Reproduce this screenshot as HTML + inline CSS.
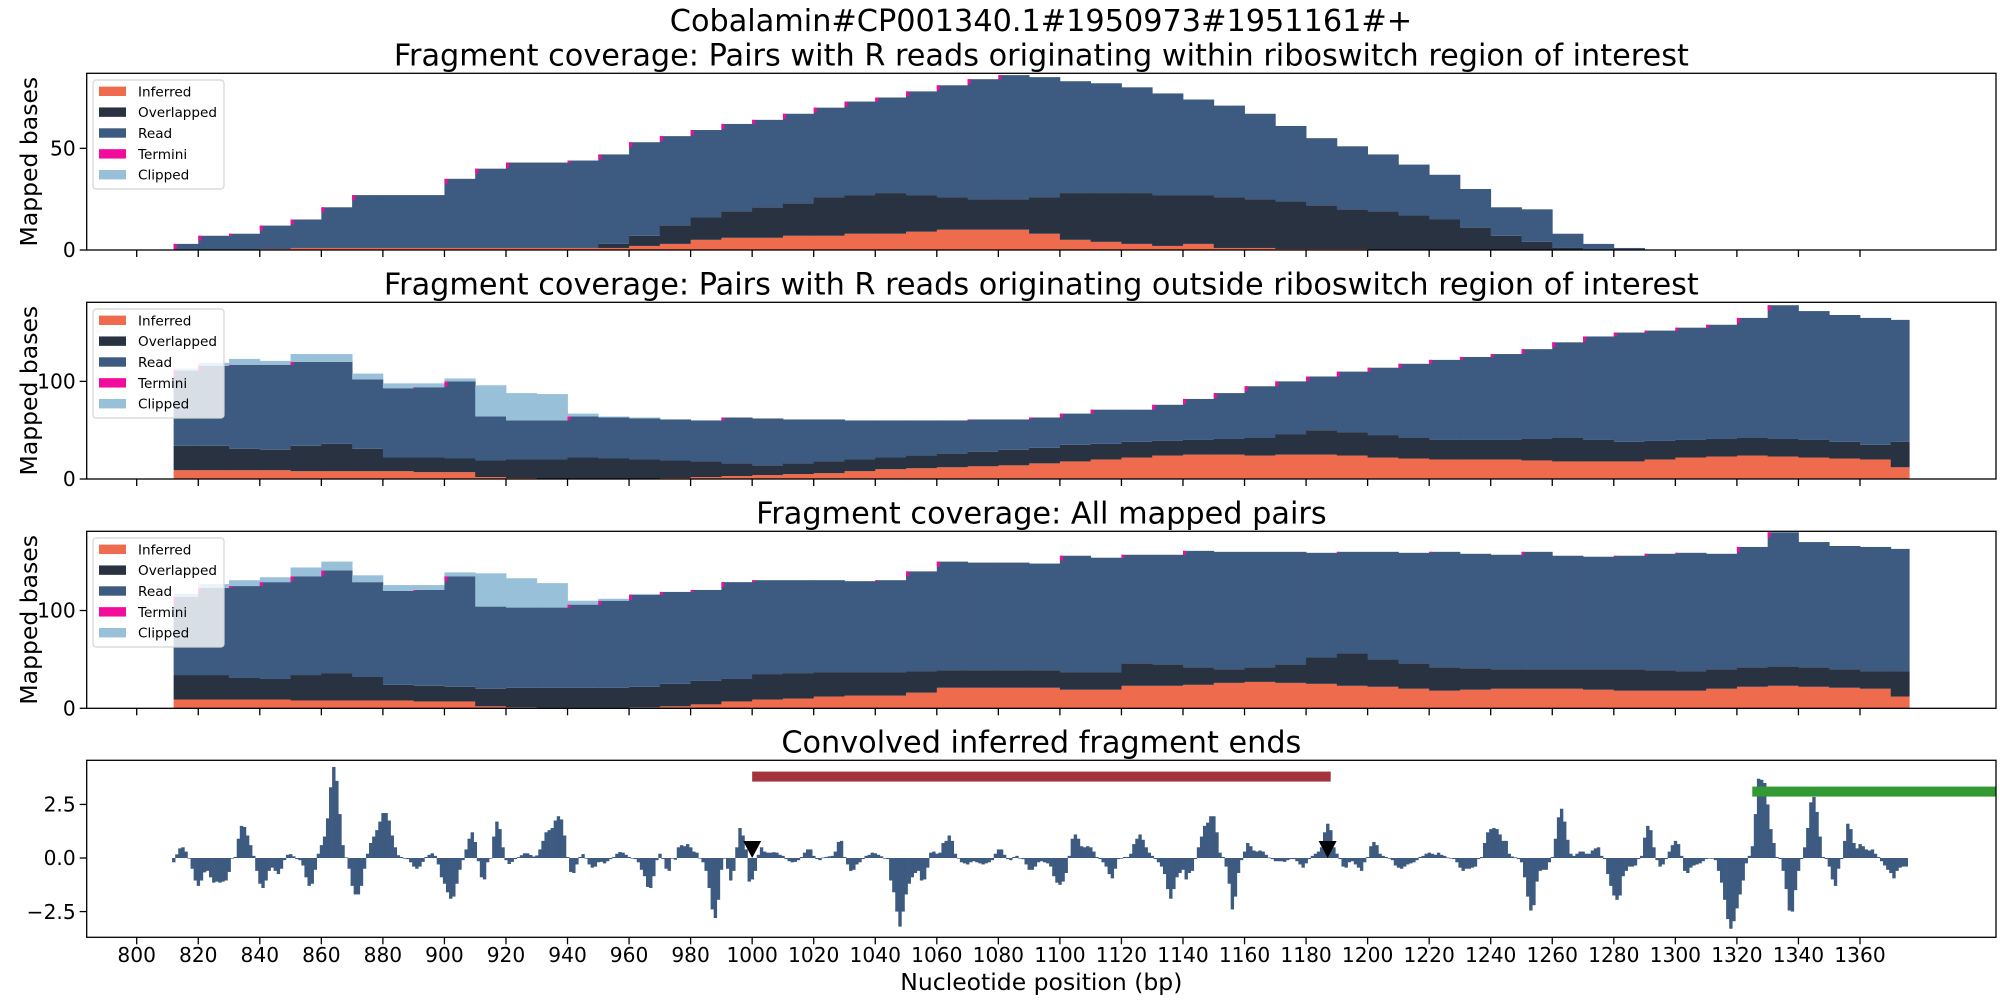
<!DOCTYPE html>
<html>
<head>
<meta charset="utf-8">
<style>
  html,body{margin:0;padding:0;background:#fff;}
  svg{display:block;font-family:"DejaVu Sans","Liberation Sans",sans-serif;}
</style>
</head>
<body>
<svg id="fig" xmlns="http://www.w3.org/2000/svg" width="2000" height="1000" viewBox="0 0 2000 1000">
  <rect x="0" y="0" width="2000" height="1000" fill="#fff"/>
  <text x="1041" y="31" font-size="30.3" text-anchor="middle" fill="#000">Cobalamin#CP001340.1#1950973#1951161#+</text>
</svg>
<script>
// ---------- data ----------
const binStart = 810;      // first bin start (bp)
const binWidth = 10;       // bin width (bp)
const dataStart = 812;     // first covered position
const dataEnd = 1376;      // last covered position

// Panel 1: pairs with R reads within riboswitch region
const p1Inferred = [0,0,0,0.5,1,1,1,1,1,1,1,1,1,1,1,2,3,5,6,6,7,7,8,8,9,10,10,10,8,5,4,3,2,3,1,1,0.5,0.5,0.5,0,0,0,0,0,0,0,0,0,0,0,0,0,0,0,0,0,0];
const p1Overlapped = [0,0,0,0,0,0,0,0,0,0,0,0,0,0,2,5,9,11,13,15,16,19,19,20,18,16,15,15,18,23,24,25,25,24,25,24,23.5,21.5,19.5,19,17,15,11,7,4,1,0,0,0,0,0,0,0,0,0,0,0];
const p1Read = [3,7,8,11.5,14,20,26,26,26,34,39,42,42,43,44,46,44,43,43,43,44,44,46,47,51,55,59,61,59,55,54,52,50,47,45,42,37,33,31,28,25,22,19,14,16,7,3,1,0,0,0,0,0,0,0,0,0];
const p1Clipped = [0,0,0,0,0,0,0,0,0,0,0,0,0,0,0,0,0,0,0,0,0,0,0,0,0,0,0,0,0,0,0,0,0,0,0,0,0,0,0,0,0,0,0,0,0,0,0,0,0,0,0,0,0,0,0,0,0];

// Panel 2: pairs with R reads outside riboswitch region
const p2Inferred = [9,9,9,9,8,8,8,8,7,7,2,1,0.5,0.5,0.5,0.5,1,2,3,4,5,6,8,10,11,12,13,14,16,18,20,22,24,25,25,24,25,25,24,22,21,20,20,20,19,18,18,18,20,22,23,24,23,22,21,20,12];
const p2Overlapped = [25,25,22,21,26,28,23,14,15,14,17,19,19.5,21.5,20.5,19.5,18,16,13,10,11,12,12,12,13,14,15,16,16,17,16,16,15,15,16,18,21,25,24,23,21,20,20,20,22,24,22,20,19,18,18,18,18,18,17,15,26];
const p2Read = [77,82,86,87,86,84,71,71,72,79,45,40,40,42,42,42,42,42,47,48,45,43,40,38,36,34,33,31,31,32,35,33,37,42,47,53,54,55,62,69,76,82,85,88,92,98,106,112,113,115,117,123,137,132,130,130,125];
const p2Clipped = [2,3,6,4,8,8,6,5,4,3,32,28,27,3,1,1,0,0,0,0,0,0,0,0,0,0,0,0,0,0,0,0,0,0,0,0,0,0,0,0,0,0,0,0,0,0,0,0,0,0,0,0,0,0,0,0,0];

// Panel 3: all mapped pairs
const p3Inferred = [9,9,9,9,8,8,8,8,7,7,2,1,0.5,0.5,0.5,1,2,4,7,9,10,12,13,13,16,21,21,21,21,19,19,23,23,24,26,27,26,25,23,22,20,18,19,20,20,20,19,18,18,18,20,22,23,22,21,20,12];
const p3Overlapped = [25,25,22,21,26,28,24,16,16,15,18,20,20.5,20.5,20.5,21,23,24,23,26,26,25,24,24,22,18,18,18,18,18,18,23,22,18,14,15,19,27,33,28,26,24,22,20,20,20,21,22,21,20,20,20,20,20,19,18,26];
const p3Read = [80,89,94,99,101,105,97,96,98,113,84,82,82,85,89,94,94,93,99,96,95,94,93,94,102,111,110,110,109,119,117,111,112,119,120,118,115,107,104,110,113,118,117,117,120,116,115,116,119,121,118,123,137,128,126,127,125];
const p3Clipped = [3,4,6,5,9,9,7,6,5,4,34,30,25,4,2,1,0,0,0,0,0,0,0,0,0,0,0,0,0,0,0,0,0,0,0,0,0,0,0,0,0,0,0,0,0,0,0,0,0,0,0,0,0,0,0,0,0];

// Panel 4: convolved inferred fragment ends, one value per bp from signalStart
const signalStart = 812;
const endSignal = [
-0.2,0.17,0.45,0.5,0.3,0,-0.5,-1.05,-1.3,-1.05,-0.67,-0.6,-0.9,-1.15,-1.1,-1.15,-1.1,-1.05,-0.65,0,0.05,0.9,1.5,1.45,1.05,0.6,0.1,
-0.6,-1.2,-1.4,-1.05,-0.6,-0.45,-0.6,-0.75,-0.5,-0.1,0.15,0.18,0.08,-0.05,-0.1,-0.35,-0.9,-1.3,-1.2,-0.55,
0.2,0.6,1.0,1.85,3.3,4.25,3.6,2.05,0.6,0.03,-0.5,-1.3,-1.7,-1.7,-1.3,-0.5,
0.2,0.7,1.0,1.3,1.7,2.1,2.1,1.75,1.05,0.5,0.13,0.05,0,-0.05,-0.2,-0.4,-0.5,-0.4,-0.18,
0.05,0.15,0.22,0.1,-0.3,-0.9,-1.2,-1.6,-1.9,-1.8,-1.2,-0.55,-0.1,
0.4,0.9,1.2,0.75,-0.15,-0.9,-1.0,-0.2,0,1.0,1.7,1.35,0.5,-0.1,-0.28,-0.18,-0.05,
0.04,0.13,0.22,0.22,0.14,0.07,0.12,0.4,0.8,1.2,1.3,1.4,1.75,1.95,1.8,1.05,0.05,
-0.65,-0.7,-0.3,0.05,0.18,0,-0.3,-0.45,-0.4,-0.2,-0.18,-0.25,-0.15,-0.05,
0.05,0.2,0.28,0.25,0.15,0.05,0,-0.05,-0.2,-0.55,-0.85,-1.35,-1.4,-0.85,-0.1,0.2,-0.05,-0.5,-0.6,0,-0.08,0.5,0.6,0.55,0.65,0.5,0.3,0.25,
0,-0.2,-0.6,-1.4,-2.4,-2.8,-1.95,-0.55,0,-0.5,-1.05,-0.6,0.5,1.4,
1.05,0.4,-1.1,-1.0,-0.6,
0.15,0.5,0.3,0.25,0.25,0.27,0.25,0.15,0.1,-0.05,-0.15,-0.2,-0.18,-0.1,0.05,0.25,0.4,0.4,0.1,-0.05,-0.1,0.02,0.05,0.08,0.1,0.3,0.75,0.8,0.05,
-0.3,-0.6,-0.55,-0.3,-0.2,-0.05,0.1,0.15,0.25,0.22,0.15,0.08,0,-0.05,
-1.05,-1.6,-2.5,-3.2,-2.5,-1.7,-1.2,-0.9,-0.7,-0.6,-1.05,-1.0,-0.45,
0.25,0.3,0.2,0.25,0.7,0.8,1.05,0.8,0.2,0,
-0.2,-0.25,-0.3,-0.2,-0.15,-0.2,-0.25,-0.3,-0.25,-0.2,-0.1,
0.2,0.4,0.4,0.15,-0.05,-0.1,0.05,0.1,0,-0.05,
-0.3,-0.55,-0.55,-0.4,-0.2,-0.15,-0.2,-0.25,-0.4,-0.85,-1.15,-1.25,-1.1,-0.7,
0.1,0.9,1.1,0.9,0.55,0.5,0.55,0.5,0.3,0.05,-0.05,
-0.2,-0.4,-0.75,-0.95,-0.5,-0.05,0,0.05,0.05,0.2,0.65,0.9,1.1,0.85,0.5,0.25,0.1,-0.05,
-0.2,-0.4,-0.75,-1.45,-1.9,-1.45,-0.9,-0.7,-0.55,-1.0,-0.7,-0.6,-0.05,
0.5,1.0,1.5,1.65,1.95,1.95,1.2,0.25,0.05,
-0.4,-1.2,-2.4,-1.8,-0.7,-0.1,
0.3,0.7,0.55,0.35,0.3,0.35,0.3,0.15,0.02,
-0.05,-0.15,-0.15,-0.15,-0.18,-0.1,-0.05,-0.05,-0.15,-0.3,-0.45,-0.25,-0.05,
0.1,0.2,0.3,0.5,1.2,1.6,1.3,0.5,0.2,
-0.05,-0.4,-0.45,-0.2,-0.15,-0.3,-0.45,-0.6,-0.2,
0.05,0.55,0.75,0.6,0.2,0.1,0.05,
-0.03,-0.1,-0.35,-0.45,-0.5,-0.4,-0.3,-0.25,-0.2,-0.1,
0.05,0.1,0.2,0.25,0.2,0.15,0.25,0.15,0.1,0.02,0,
-0.05,-0.2,-0.45,-0.6,-0.5,-0.5,-0.45,-0.4,-0.05,
0.05,0.7,1.2,1.35,1.4,1.35,1.1,0.8,0.8,0.2,0.07,0.03,
-0.05,-0.2,-0.9,-1.8,-2.45,-2.2,-1.1,-0.6,-0.55,-0.55,-0.2,
0.05,0.9,1.9,2.3,1.7,0.85,0.2,0.1,0.2,0.3,0.3,0.2,0.2,0.35,0.45,0.5,0.1,
-0.05,-0.75,-1.3,-1.75,-1.95,-1.75,-0.85,-0.6,-0.4,-0.4,-0.35,-0.05,
0.1,0.95,1.5,1.3,0.5,
-0.1,-0.4,-0.3,-0.05,
0.3,0.6,0.8,0.65,0.1,
-0.6,-0.7,-0.45,-0.35,-0.3,-0.25,-0.15,-0.05,0,-0.03,-0.1,-0.6,-1.15,-1.95,-2.85,-3.3,-2.95,-2.35,-1.7,-1.05,-0.25,
0.1,0.55,2.05,3.7,3.65,3.5,2.5,1.35,0.7,0.05,
-0.05,-0.6,-1.45,-2.45,-2.5,-1.5,-0.6,-0.05,
0.5,1.4,2.6,2.85,2.15,1.0,0.05,
-0.05,-0.4,-1.0,-1.3,-0.5,-0.05,
0.8,1.6,1.35,0.7,0.45,0.65,0.55,0.4,0.35,0.4,0.2,0.05,
-0.15,-0.35,-0.55,-0.7,-0.95,-0.6,-0.45,-0.4,-0.4
];
// annotations on panel 4
const regionStart = [1000, 1325];
const regionEnd = [1188, 1404.2];
const regionLevel = [3.8, 3.1];
const markerPos = [1000, 1187];

const xTicks = [800,820,840,860,880,900,920,940,960,980,1000,1020,1040,1060,1080,1100,1120,1140,1160,1180,1200,1220,1240,1260,1280,1300,1320,1340,1360];
const p1YTicks = [0, 50];
const p23YTicks = [0, 100];
const p4YTicks = [-2.5, 0, 2.5];
const p4YTickLabels = ["\u22122.5", "0.0", "2.5"];
const legendLabels = ["Inferred","Overlapped","Read","Termini","Clipped"];

// ---------- layout ----------
const NS = "http://www.w3.org/2000/svg";
const svg = document.getElementById('fig');
const AX_L = 86.7, AX_R = 1996, XMIN = 783.75, XMAX = 1404.2;
const X = bp => AX_L + (bp - XMIN) * (AX_R - AX_L) / (XMAX - XMIN);
const COLORS = {Inferred:"#EE6C4D", Overlapped:"#293241", Read:"#3D5A80", Termini:"#F20C9C", Clipped:"#98C1D9"};

function el(tag, attrs, parent){
  const e = document.createElementNS(NS, tag);
  for (const k in attrs) e.setAttribute(k, attrs[k]);
  (parent || svg).appendChild(e);
  return e;
}
function makeY(top, bottom, ymin, ymax){ return v => bottom - (v - ymin) * (bottom - top) / (ymax - ymin); }

const panels = [
  {name:"panel-within", top:73.3, bottom:250, ymin:0, ymax:86.9, ticks:p1YTicks, labels:["0","50"],
   title:"Fragment coverage: Pairs with R reads originating within riboswitch region of interest",
   series:[p1Inferred,p1Overlapped,p1Read,p1Clipped]},
  {name:"panel-outside", top:302.3, bottom:479, ymin:0, ymax:181, ticks:p23YTicks, labels:["0","100"],
   title:"Fragment coverage: Pairs with R reads originating outside riboswitch region of interest",
   series:[p2Inferred,p2Overlapped,p2Read,p2Clipped]},
  {name:"panel-all", top:531.3, bottom:708.3, ymin:0, ymax:181, ticks:p23YTicks, labels:["0","100"],
   title:"Fragment coverage: All mapped pairs",
   series:[p3Inferred,p3Overlapped,p3Read,p3Clipped]}
];

function drawAxesCommon(g, top, bottom, showXLabels){
  for (const t of xTicks){
    const tk = el('line',{x1:X(t),x2:X(t),y1:bottom,y2:bottom+7,stroke:"#000","stroke-width":1.3},g);
    
    
    if (showXLabels){
      const tl = el('text',{x:X(t),y:962,"font-size":20.2,"text-anchor":"middle",fill:"#000"},g);
      tl.textContent = String(t);
      
      
    }
  }
}

panels.forEach(p => {
  const g = el('g',{});
  
  
  const Y = makeY(p.top, p.bottom, p.ymin, p.ymax);
  const [inf, ov, rd, cl] = p.series;
  let prevTop = 0;
  for (let i = 0; i < inf.length; i++){
    const a = Math.max(dataStart, binStart + i*binWidth);
    const b = Math.min(dataEnd, binStart + (i+1)*binWidth);
    if (b <= a) continue;
    const x0 = X(a), w = X(b) - X(a) + 0.4;
    let base = 0;
    const stack = [[inf[i],"Inferred"],[ov[i],"Overlapped"],[rd[i],"Read"]];
    for (const [v, nm] of stack){
      if (v > 0){
        const r = el('rect',{x:x0,y:Y(base+v),width:w,height:Y(base)-Y(base+v),fill:COLORS[nm]},g);
        
        
      }
      base += v;
    }
    const readTop = base;
    if (readTop > prevTop && readTop > 0){
      const tm = el('rect',{x:x0,y:Y(readTop),width:3.1,height:Math.min(5, Y(prevTop)-Y(readTop)),fill:COLORS.Termini},g);
      
      
    }
    prevTop = readTop;
    if (cl[i] > 0){
      const c = el('rect',{x:x0,y:Y(base+cl[i]),width:w,height:Y(base)-Y(base+cl[i]),fill:COLORS.Clipped},g);
      
      
    }
  }
  // frame
  const fr = el('rect',{x:AX_L,y:p.top,width:AX_R-AX_L,height:p.bottom-p.top,fill:"none",stroke:"#000","stroke-width":1.3},g);
  
  
  drawAxesCommon(g, p.top, p.bottom, false);
  p.ticks.forEach((t, k) => {
    const yt = el('line',{x1:AX_L-7,x2:AX_L,y1:Y(t),y2:Y(t),stroke:"#000","stroke-width":1.3},g);
    
    
    const yl = el('text',{x:AX_L-11,y:Y(t)+7.2,"font-size":20.2,"text-anchor":"end",fill:"#000"},g);
    yl.textContent = p.labels[k];
    
    
  });
  const cy = (p.top + p.bottom)/2;
  const ylab = el('text',{x:37,y:cy,"font-size":23.5,"text-anchor":"middle",fill:"#000",transform:`rotate(-90 37 ${cy})`},g);
  ylab.textContent = "Mapped bases";
  
  
  const tt = el('text',{x:(AX_L+AX_R)/2,y:p.top-8,"font-size":30.3,"text-anchor":"middle",fill:"#000"},g);
  tt.textContent = p.title;
  
  
  // legend
  const lg = el('g',{},g);
  
  
  const lx = AX_L + 6.3, ly = p.top + 6.7;
  const box = el('rect',{x:lx,y:ly,width:131,height:109,rx:3,fill:"rgba(255,255,255,0.8)",stroke:"#d4d4d4","stroke-width":1.2},lg);
  
  
  legendLabels.forEach((nm, k) => {
    const cyk = p.top + 18 + k*20.85;
    const sw = el('rect',{x:AX_L+12.3,y:cyk-4.7,width:27,height:9.4,fill:COLORS[nm]},lg);
    
    
    const lt = el('text',{x:AX_L+51.3,y:cyk+5,"font-size":13.6,fill:"#000"},lg);
    lt.textContent = nm;
    
    
  });
});

// ---------- panel 4 ----------
(function(){
  const top = 760.3, bottom = 937.3, ymin = -3.70, ymax = 4.56;
  const Y = makeY(top, bottom, ymin, ymax);
  const g = el('g',{});
  
  
  const bw = X(1) - X(0);
  endSignal.forEach((v, i) => {
    const bp = signalStart + i;
    const y1 = Y(Math.max(v,0)), y2 = Y(Math.min(v,0));
    const r = el('rect',{x:X(bp-0.5),y:y1,width:bw+0.3,height:Math.max(0.6,y2-y1),fill:"#3D5A80"},g);
    
    
  });
  const regColors = ["#A3333D","#339933"];
  const regNames = ["riboswitch-region-bar","downstream-region-bar"];
  regionStart.forEach((s, k) => {
    const rr = el('rect',{x:X(s),y:Y(regionLevel[k])-5,width:X(regionEnd[k])-X(s),height:10,fill:regColors[k]},g);
    
    
  });
  markerPos.forEach(m => {
    const mx = X(m), my = Y(0);
    const tri = el('polygon',{points:`${mx-9},${my-17} ${mx+9},${my-17} ${mx},${my}`,fill:"#000"},g);
    
    
  });
  const fr = el('rect',{x:AX_L,y:top,width:AX_R-AX_L,height:bottom-top,fill:"none",stroke:"#000","stroke-width":1.3},g);
  
  
  drawAxesCommon(g, top, bottom, true);
  p4YTicks.forEach((t, k) => {
    const yt = el('line',{x1:AX_L-7,x2:AX_L,y1:Y(t),y2:Y(t),stroke:"#000","stroke-width":1.3},g);
    
    
    const yl = el('text',{x:AX_L-11,y:Y(t)+7.2,"font-size":20.2,"text-anchor":"end",fill:"#000"},g);
    yl.textContent = p4YTickLabels[k];
    
    
  });
  const tt = el('text',{x:(AX_L+AX_R)/2,y:top-8,"font-size":30.3,"text-anchor":"middle",fill:"#000"},g);
  tt.textContent = "Convolved inferred fragment ends";
  
  
  const xl = el('text',{x:(AX_L+AX_R)/2,y:990,"font-size":23.5,"text-anchor":"middle",fill:"#000"},g);
  xl.textContent = "Nucleotide position (bp)";
  
  
})();
</script>
</body>
</html>
